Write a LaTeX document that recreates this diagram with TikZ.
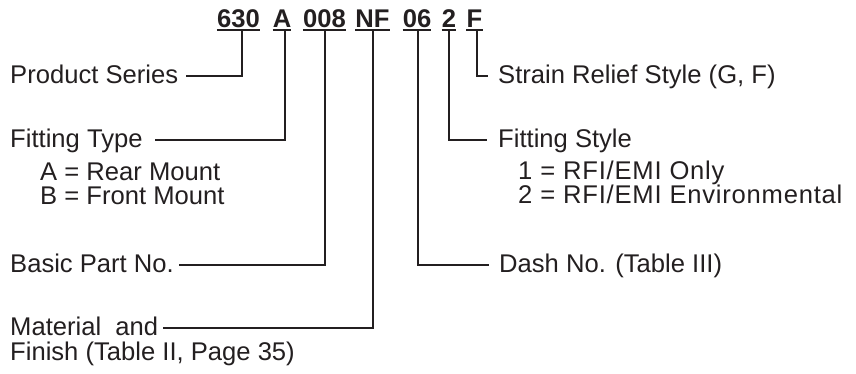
\documentclass[tikz,border=0pt]{standalone}
\usepackage{fontspec}
\setmainfont{Liberation Sans}
\definecolor{ink}{RGB}{35,31,32}
\begin{document}
\begin{tikzpicture}[x=1pt,y=-1pt,
  lbl/.style={anchor=base west, inner sep=0pt, text height=15pt, text depth=0pt,
    font=\fontsize{25.6}{30}\selectfont, text=ink},
  wide/.style={font=\fontsize{25.6}{30}\selectfont\addfontfeature{LetterSpace=3}},
  code/.style={anchor=base, inner sep=0pt, text height=18pt, text depth=2.5pt,
    font=\fontsize{25.6}{30}\selectfont\bfseries, text=ink},
  wire/.style={line width=2pt, draw=ink},
  uline/.style={line width=2pt, draw=ink}]
\useasboundingbox (0,0) rectangle (856,373);

% code segments
\node[code] (c630) at (238.5,27) {630};
\node[code] (cA)   at (282,27)   {A};
\node[code] (c008) at (324.5,27) {008};
\node[code] (cNF)  at (372.5,27) {NF};
\node[code] (c06)  at (417,27)   {06};
\node[code] (c2)   at (449,27)   {2};
\node[code] (cF)   at (474.5,27) {F};
\foreach \s in {c630,cA,c008,cNF,c06,c2,cF}
  \draw[uline] (\s.south west) -- (\s.south east);

% labels, left
\node[lbl] (ps)  at (10,83)    {Product Series};
\node[lbl] (ft)  at (10,147.5) {Fitting Type};
\node[lbl] (fa)  at (40,180)   {A = Rear Mount};
\node[lbl] (fb)  at (40,204)   {B = Front Mount};
\node[lbl] (bp)  at (10,272)   {Basic Part No.};
\node[lbl] (mat) at (10,335)   {Material~ and};
\node[lbl] (fin) at (10,360)   {Finish (Table II, Page 35)};

% labels, right
\node[lbl] (sr) at (498,83)    {Strain Relief Style (G, F)};
\node[lbl] (fs) at (498,147.5) {Fitting Style};
\node[lbl,wide] (f1) at (518,179.5) {1 = RFI/EMI Only};
\node[lbl,wide] (f2) at (518,203.5) {2 = RFI/EMI Environmental};
\node[lbl] (dn) at (499,272)   {Dash No. (Table III)};

% connectors
\draw[wire] ([xshift=3.5pt]c630.south) |- ([xshift=8pt]ps.east);
\draw[wire] ([xshift=3pt]cA.south)     |- ([xshift=12pt]ft.east);
\draw[wire] ([xshift=0.5pt]c008.south) |- ([xshift=5pt]bp.east);
\draw[wire] (cNF.south)                |- ([xshift=5pt]mat.east);
\draw[wire] ([xshift=1pt]c06.south)    |- ([xshift=-10pt]dn.west);
\draw[wire] (c2.south)                 |- ([xshift=-11pt]fs.west);
\draw[wire] ([xshift=2.5pt]cF.south)   |- ([xshift=-10pt]sr.west);
\end{tikzpicture}
\end{document}
